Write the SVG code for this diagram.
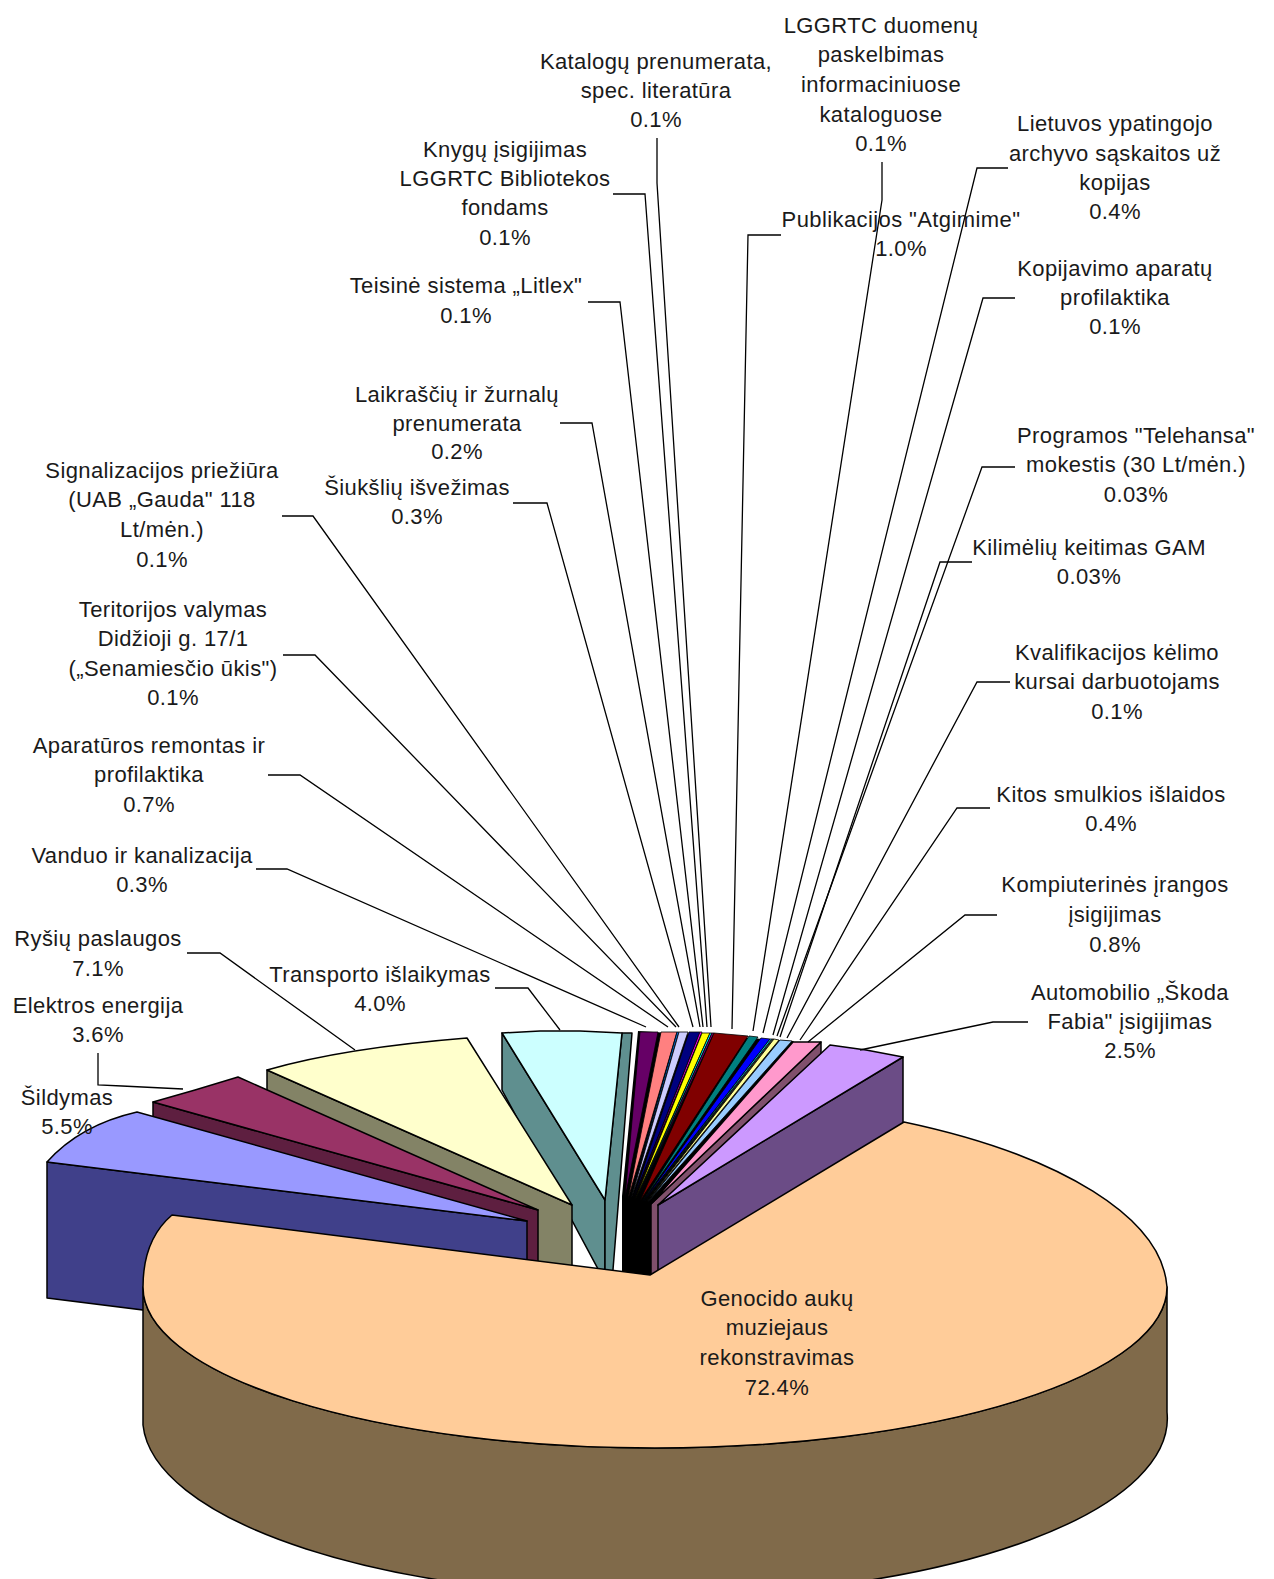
<svg xmlns="http://www.w3.org/2000/svg" width="1274" height="1579" viewBox="0 0 1274 1579">
<style>
.e{stroke:#000;stroke-width:1.5;stroke-linejoin:round}
.f{stroke:#000;stroke-width:0.8;stroke-linejoin:round}
.ld{fill:none;stroke:#000;stroke-width:1.3}
.t{font-family:"Liberation Sans",Arial,sans-serif;font-size:22px;letter-spacing:0.4px;fill:#1a1a1a;text-anchor:middle}
</style>
<rect width="1274" height="1579" fill="#fff"/>

<g id="slices-small">
<polygon fill="#000" points="638,1031 794,1041 651,1206 651,1282 622,1282 622,1196"/>
<polygon class="f" fill="#660066" points="640,1032 658,1032 625,1198"/>
<polygon class="f" fill="#FF8080" points="661,1032 677,1032 628,1199"/>
<polygon class="f" fill="#0066CC" points="677,1032 679,1032 630,1199"/>
<polygon class="f" fill="#CCCCFF" points="679,1032 688,1032 631,1199"/>
<polygon class="f" fill="#000080" points="689,1032 700,1032 633,1199"/>
<polygon class="f" fill="#FF00FF" points="700,1032 702,1032 634,1199"/>
<polygon class="f" fill="#FFFF00" points="702,1033 710,1033 635,1200"/>
<polygon class="f" fill="#00FFFF" points="710,1033 712,1033 636,1200"/>
<polygon class="f" fill="#800080" points="712,1033 714,1033 637,1200"/>
<polygon class="f" fill="#800000" points="714,1033 748,1036 640,1201"/>
<polygon class="f" fill="#008080" points="749,1036 758,1037 642,1202"/>
<polygon class="f" fill="#0000FF" points="761,1038 770,1039 643,1202"/>
<polygon class="f" fill="#00CCFF" points="770,1039 772,1039 644,1202"/>
<polygon class="f" fill="#CCFFFF" points="772,1039 773,1039 645,1202"/>
<polygon class="f" fill="#CCFFCC" points="773,1039 774,1039 645,1203"/>
<polygon class="f" fill="#FFFF99" points="774,1039 779,1040 646,1203"/>
<polygon class="f" fill="#99CCFF" points="780,1040 792,1041 647,1203"/>
</g>

<g id="slice-transporto">
<polygon class="e" fill="#5F8F8F" points="502,1033 605,1200 605,1282 502,1090"/>
<polygon class="e" fill="#5F8F8F" points="622,1033 632,1033 612,1282 605,1282 605,1200"/>
<polygon class="e" fill="#CCFFFF" points="502,1033 540,1031 580,1031 622,1033 605,1200"/>
</g>

<g id="slice-kompiuterines">
<polygon class="e" fill="#80506C" points="821,1042 821,1062 651,1284 651,1204"/>
<polygon class="e" fill="#FF99CC" points="651,1204 793,1042 821,1042"/>
</g>

<g id="slice-automobilio">
<polygon class="e" fill="#6B4C86" points="903,1057 903,1128 658,1278 658,1205"/>
<polygon class="e" fill="#CC99FF" points="658,1205 830,1045 866,1050 903,1057"/>
</g>

<g id="slice-rysiu">
<polygon class="e" fill="#838366" points="267,1070 572,1205 572,1282 267,1140"/>
<path class="e" fill="#FFFFCC" d="M572,1205 L267,1070 Q343,1048 467,1038 Z"/>
</g>

<g id="slice-elektros">
<polygon class="e" fill="#5E1F40" points="153,1102 538,1210 538,1282 153,1180"/>
<polygon class="e" fill="#993366" points="538,1210 153,1102 195,1090 238,1077"/>
</g>

<g id="slice-sildymas">
<polygon class="e" fill="#40408A" points="47,1162 527,1221 527,1358 47,1298"/>
<path class="e" fill="#9999FF" d="M527,1221 L47,1162 Q80,1125 137,1112 Z"/>
</g>

<g id="slice-genocido">
<path class="e" fill="#806A4A" d="M143,1287 L143,1425 A512 178 0 0 0 1167 1412 L1167,1287 A512 161 0 0 1 143 1287 Z"/>
<path class="e" fill="#FFCC99" d="M650,1275 L904,1122 A512 195 0 0 1 1167 1287 A512 161 0 0 1 143 1287 C143,1258 152,1232 172,1215 Z"/>
</g>

<g id="connectors">
<polyline class="ld" points="256,869 287,869 646,1027"/>
<polyline class="ld" points="268,775 300,775 668,1027"/>
<polyline class="ld" points="283,655 315,655 676,1027"/>
<polyline class="ld" points="282,516 313,516 679,1027"/>
<polyline class="ld" points="513,503 547,503 693,1027"/>
<polyline class="ld" points="560,423 592,423 700,1027"/>
<polyline class="ld" points="588,302 620,302 703,1027"/>
<polyline class="ld" points="613,194 645,194 707,1027"/>
<polyline class="ld" points="657,138 657,183 711,1027"/>
<polyline class="ld" points="187,953 220,953 355,1050"/>
<polyline class="ld" points="495,988 528,988 560,1030"/>
<polyline class="ld" points="98,1053 98,1085 122,1086 183,1089"/>
<polyline class="ld" points="781,235 748,235 732,1029"/>
<polyline class="ld" points="882,162 882,200 753,1031"/>
<polyline class="ld" points="1008,168 977,168 763,1033"/>
<polyline class="ld" points="1015,298 983,298 773,1035"/>
<polyline class="ld" points="1015,467 982,467 777,1036"/>
<polyline class="ld" points="972,562 940,562 780,1037"/>
<polyline class="ld" points="1010,682 977,682 787,1038"/>
<polyline class="ld" points="990,808 957,808 800,1040"/>
<polyline class="ld" points="997,915 965,915 808,1042"/>
<polyline class="ld" points="1028,1022 993,1022 860,1050"/>
</g>

<g id="label-lggrtc"><text class="t"><tspan x="881" y="33">LGGRTC duomenų</tspan><tspan x="881" y="62">paskelbimas</tspan><tspan x="881" y="92">informaciniuose</tspan><tspan x="881" y="122">kataloguose</tspan><tspan x="881" y="151">0.1%</tspan></text></g>
<g id="label-katalogu"><text class="t"><tspan x="656" y="69">Katalogų prenumerata,</tspan><tspan x="656" y="98">spec. literatūra</tspan><tspan x="656" y="127">0.1%</tspan></text></g>
<g id="label-knygu"><text class="t"><tspan x="505" y="157">Knygų įsigijimas</tspan><tspan x="505" y="186">LGGRTC Bibliotekos</tspan><tspan x="505" y="215">fondams</tspan><tspan x="505" y="245">0.1%</tspan></text></g>
<g id="label-publikacijos"><text class="t"><tspan x="901" y="227">Publikacijos "Atgimime"</tspan><tspan x="901" y="256">1.0%</tspan></text></g>
<g id="label-lietuvos"><text class="t"><tspan x="1115" y="131">Lietuvos ypatingojo</tspan><tspan x="1115" y="161">archyvo sąskaitos už</tspan><tspan x="1115" y="190">kopijas</tspan><tspan x="1115" y="219">0.4%</tspan></text></g>
<g id="label-teisine"><text class="t"><tspan x="466" y="293">Teisinė sistema „Litlex"</tspan><tspan x="466" y="323">0.1%</tspan></text></g>
<g id="label-kopijavimo"><text class="t"><tspan x="1115" y="276">Kopijavimo aparatų</tspan><tspan x="1115" y="305">profilaktika</tspan><tspan x="1115" y="334">0.1%</tspan></text></g>
<g id="label-laikrasciu"><text class="t"><tspan x="457" y="402">Laikraščių ir žurnalų</tspan><tspan x="457" y="431">prenumerata</tspan><tspan x="457" y="459">0.2%</tspan></text></g>
<g id="label-programos"><text class="t"><tspan x="1136" y="443">Programos "Telehansa"</tspan><tspan x="1136" y="472">mokestis (30 Lt/mėn.)</tspan><tspan x="1136" y="502">0.03%</tspan></text></g>
<g id="label-signalizacijos"><text class="t"><tspan x="162" y="478">Signalizacijos priežiūra</tspan><tspan x="162" y="507">(UAB „Gauda" 118</tspan><tspan x="162" y="537">Lt/mėn.)</tspan><tspan x="162" y="567">0.1%</tspan></text></g>
<g id="label-siuksliu"><text class="t"><tspan x="417" y="495">Šiukšlių išvežimas</tspan><tspan x="417" y="524">0.3%</tspan></text></g>
<g id="label-kilimeliu"><text class="t"><tspan x="1089" y="555">Kilimėlių keitimas GAM</tspan><tspan x="1089" y="584">0.03%</tspan></text></g>
<g id="label-teritorijos"><text class="t"><tspan x="173" y="617">Teritorijos valymas</tspan><tspan x="173" y="646">Didžioji g. 17/1</tspan><tspan x="173" y="676">(„Senamiesčio ūkis")</tspan><tspan x="173" y="705">0.1%</tspan></text></g>
<g id="label-kvalifikacijos"><text class="t"><tspan x="1117" y="660">Kvalifikacijos kėlimo</tspan><tspan x="1117" y="689">kursai darbuotojams</tspan><tspan x="1117" y="719">0.1%</tspan></text></g>
<g id="label-aparaturos"><text class="t"><tspan x="149" y="753">Aparatūros remontas ir</tspan><tspan x="149" y="782">profilaktika</tspan><tspan x="149" y="812">0.7%</tspan></text></g>
<g id="label-kitos"><text class="t"><tspan x="1111" y="802">Kitos smulkios išlaidos</tspan><tspan x="1111" y="831">0.4%</tspan></text></g>
<g id="label-vanduo"><text class="t"><tspan x="142" y="863">Vanduo ir kanalizacija</tspan><tspan x="142" y="892">0.3%</tspan></text></g>
<g id="label-kompiuterines"><text class="t"><tspan x="1115" y="892">Kompiuterinės įrangos</tspan><tspan x="1115" y="922">įsigijimas</tspan><tspan x="1115" y="952">0.8%</tspan></text></g>
<g id="label-rysiu"><text class="t"><tspan x="98" y="946">Ryšių paslaugos</tspan><tspan x="98" y="976">7.1%</tspan></text></g>
<g id="label-transporto"><text class="t"><tspan x="380" y="982">Transporto išlaikymas</tspan><tspan x="380" y="1011">4.0%</tspan></text></g>
<g id="label-elektros"><text class="t"><tspan x="98" y="1013">Elektros energija</tspan><tspan x="98" y="1042">3.6%</tspan></text></g>
<g id="label-automobilio"><text class="t"><tspan x="1130" y="1000">Automobilio „Škoda</tspan><tspan x="1130" y="1029">Fabia" įsigijimas</tspan><tspan x="1130" y="1058">2.5%</tspan></text></g>
<g id="label-sildymas"><text class="t"><tspan x="67" y="1105">Šildymas</tspan><tspan x="67" y="1134">5.5%</tspan></text></g>
<g id="label-genocido"><text class="t"><tspan x="777" y="1306">Genocido aukų</tspan><tspan x="777" y="1335">muziejaus</tspan><tspan x="777" y="1365">rekonstravimas</tspan><tspan x="777" y="1395">72.4%</tspan></text></g>
</svg>
